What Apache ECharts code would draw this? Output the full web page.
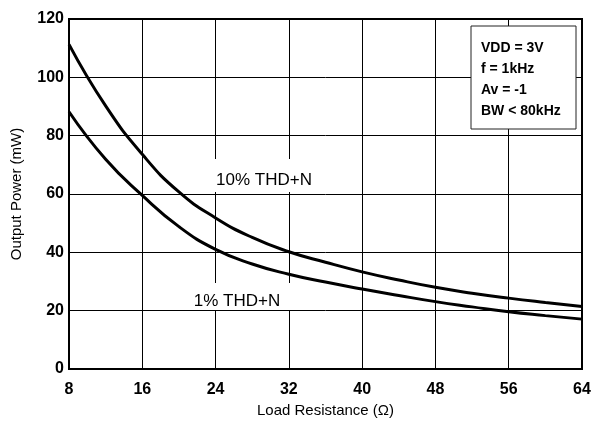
<!DOCTYPE html>
<html>
<head>
<meta charset="utf-8">
<script src="https://cdn.jsdelivr.net/npm/echarts@6/dist/echarts.min.js"></script>
<style>
  html, body { margin: 0; padding: 0; background: #fff; }
  #chart { width: 594px; height: 423px; }
</style>
</head>
<body>
<div id="chart"></div>
<script>
// load resistance (ohm) vs output power (mW)
const loads = [8, 12, 16, 20, 24, 28, 32, 36, 40, 44, 48, 52, 56, 60, 64]
const thd10 = [111.3, 90.2, 73.6, 60.7, 51.8, 45.1, 40.2, 36.6, 33.3, 30.5, 28.0, 26.0, 24.3, 22.8, 21.4]
const thd1 = [88.2, 71.9, 59.5, 48.8, 41.0, 36.0, 32.5, 29.8, 27.4, 25.2, 23.1, 21.3, 19.6, 18.3, 17.1]
const conditions = ['VDD = 3V', 'f = 1kHz', 'Av = -1', 'BW < 80kHz']

const font = 'Liberation Sans, Arial, sans-serif'
const pairs = vals => loads.map((r, i) => [r, vals[i]])
const chart = echarts.init(document.getElementById('chart'))

chart.setOption({
  backgroundColor: '#fff',
  animation: false,
  grid: {
    left: 69,
    right: 12,
    top: 19,
    bottom: 54,
    show: true,
    borderColor: '#000',
    borderWidth: 2
  },
  xAxis: {
    type: 'value',
    min: 8,
    max: 64,
    interval: 8,
    name: 'Load Resistance (Ω)',
    nameLocation: 'middle',
    nameGap: 33,
    nameTextStyle: { fontFamily: font, fontSize: 15, color: '#000' },
    axisLine: { lineStyle: { color: '#000', width: 2 } },
    axisTick: { show: false },
    axisLabel: {
      margin: 13,
      fontFamily: font,
      fontSize: 16,
      fontWeight: 'bold',
      color: '#000'
    },
    splitLine: { lineStyle: { color: '#000', width: 1 } }
  },
  yAxis: {
    type: 'value',
    min: 0,
    max: 120,
    interval: 20,
    name: 'Output Power (mW)',
    nameLocation: 'middle',
    nameGap: 45,
    nameTextStyle: { fontFamily: font, fontSize: 15, color: '#000' },
    axisLine: { show: true, lineStyle: { color: '#000', width: 2 } },
    axisTick: { show: false },
    axisLabel: {
      margin: 5,
      padding: [6, 0, 0, 0],
      fontFamily: font,
      fontSize: 16,
      fontWeight: 'bold',
      color: '#000'
    },
    splitLine: { lineStyle: { color: '#000', width: 1 } }
  },
  series: [
    {
      name: '10% THD+N',
      type: 'line',
      data: pairs(thd10),
      smooth: true,
      showSymbol: false,
      lineStyle: { color: '#000', width: 3 }
    },
    {
      name: '1% THD+N',
      type: 'line',
      data: pairs(thd1),
      smooth: true,
      showSymbol: false,
      lineStyle: { color: '#000', width: 3 }
    }
  ],
  graphic: [
    // curve labels sit on white patches that cut the grid
    { type: 'rect', shape: { x: 199, y: 159, width: 118, height: 33 }, style: { fill: '#fff' }, z: 10 },
    {
      type: 'text', x: 264, y: 180, z: 11,
      style: { text: '10% THD+N', font: '17px ' + font, fill: '#000', align: 'center', verticalAlign: 'middle' }
    },
    { type: 'rect', shape: { x: 178, y: 283, width: 112, height: 27 }, style: { fill: '#fff' }, z: 10 },
    {
      type: 'text', x: 237, y: 301, z: 11,
      style: { text: '1% THD+N', font: '17px ' + font, fill: '#000', align: 'center', verticalAlign: 'middle' }
    },
    // test conditions box
    {
      type: 'rect', z: 10,
      shape: { x: 471, y: 26, width: 105, height: 103 },
      style: { fill: '#fff', stroke: '#222', lineWidth: 1 }
    },
    {
      type: 'text', x: 481, y: 38, z: 11,
      style: {
        text: conditions.join('\n'),
        font: 'bold 14px ' + font,
        lineHeight: 21,
        fill: '#000',
        verticalAlign: 'top'
      }
    }
  ]
})
</script>
</body>
</html>
